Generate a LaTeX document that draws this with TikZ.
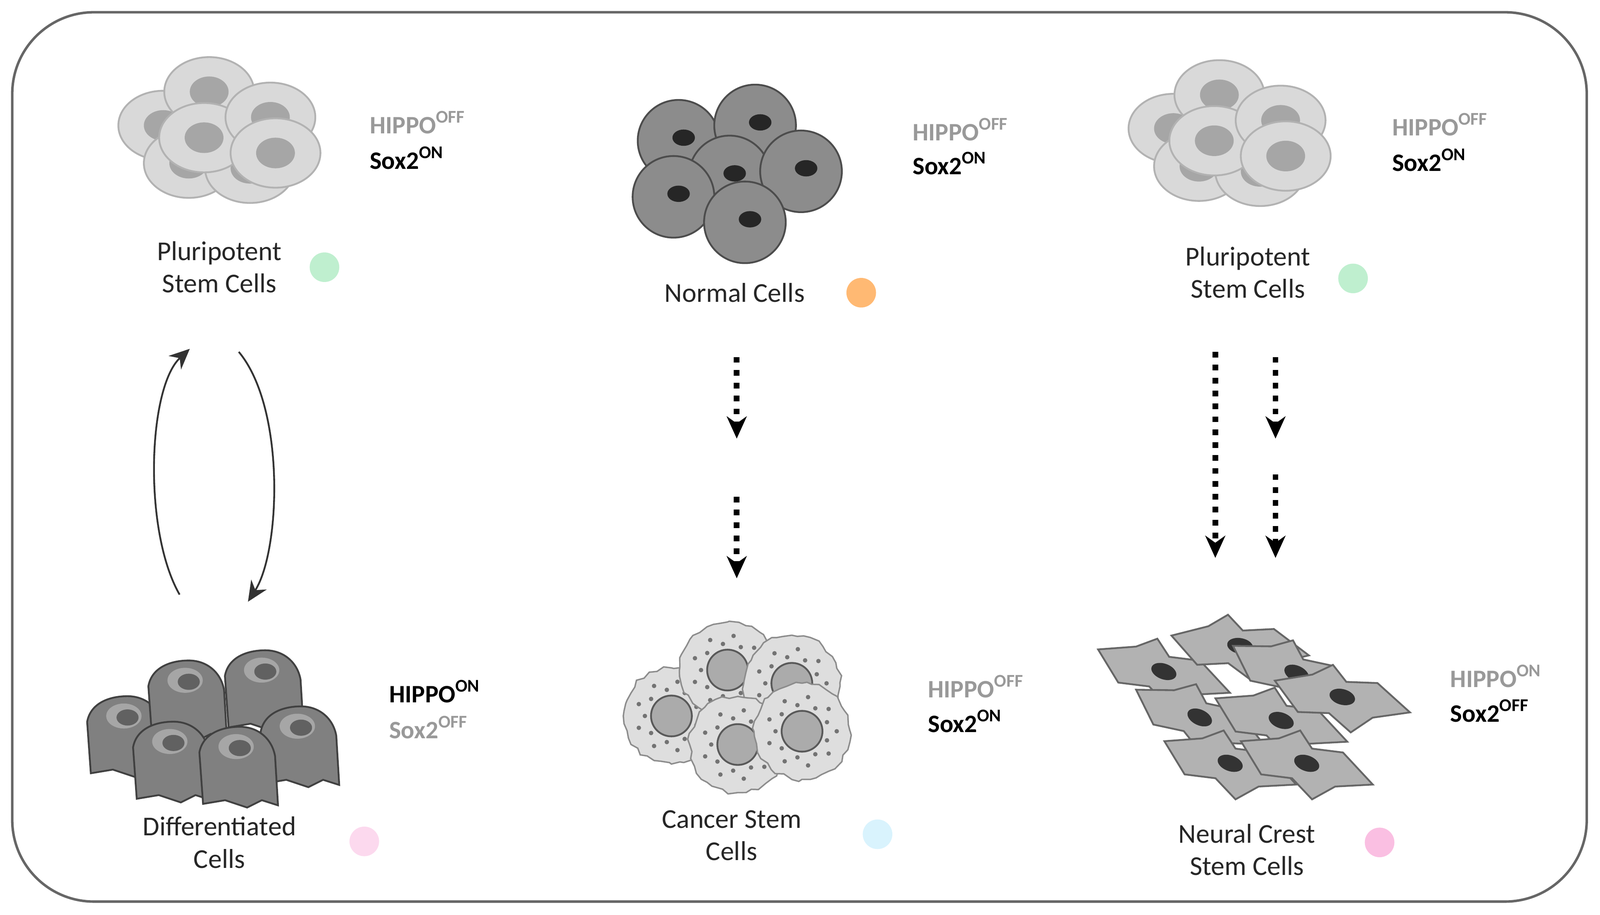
\documentclass[tikz,border=0pt]{standalone}
\usepackage{fontspec}
\setmainfont{Carlito}
\usetikzlibrary{arrows.meta,decorations.pathmorphing}
\begin{document}
\begin{tikzpicture}[x=0.01cm,y=-0.01cm,
  lbl/.style={font=\fontsize{7.6}{9}\selectfont,align=center,text=black!85},
  st/.style={font=\fontsize{7}{8}\selectfont\bfseries,anchor=west},
  on/.style={st,text=black},
  off/.style={st,text=black!40},
  dot/.style={circle,minimum size=2.9mm,inner sep=0},
  pc/.style={fill=black!15,draw=black!30,line width=0.5pt},
  pn/.style={fill=black!35},
  nc/.style={fill=black!45,draw=black!70,line width=0.5pt},
  dc/.style={fill=black!50,draw=black!75,line width=0.5pt},
  cc/.style={fill=black!13,draw=black!45,line width=0.4pt,decorate,decoration={random steps,segment length=2pt,amplitude=0.6pt}},
  nr/.style={fill=black!33,draw=black!65,line width=0.5pt},
  dotarr/.style={line width=1.6pt,dotted,-{Stealth[length=2.2mm,width=2mm,line width=0pt]}},
  curv/.style={line width=0.5pt,black!80,-{Stealth[length=2mm,width=1.8mm]}}]
\useasboundingbox (0,0) rectangle (1568,897);
\draw[black!60,line width=0.7pt,rounded corners=0.8cm] (12,12) rectangle (1555,884);

% pluripotent clusters
\foreach \cx/\cy/\nm in {215/135/L,1205/138/R}{
 \begin{scope}[shift={(\cx,\cy)}]
 \foreach \dx/\dy in {-55/-12,-10/-45,-30/25,30/30,-15/0,50/-20,55/15}{
   \fill[pc] (\dx,\dy) ellipse [x radius=4.4mm,y radius=3.4mm];
   \fill[pn] (\dx,\dy) ellipse [x radius=1.9mm,y radius=1.5mm];}
 \end{scope}}
% normal cells
\begin{scope}[shift={(720,168)}]
 \foreach \dx/\dy in {-55/-30,20/-45,-5/5,65/0,-60/25,10/50}{
   \fill[nc] (\dx,\dy) circle (4mm);
   \fill[black!85] (\dx+5,\dy-3) ellipse [x radius=1.1mm,y radius=0.8mm];}
\end{scope}
% differentiated cells
\begin{scope}[shift={(210,705)}]
 \foreach \dx/\dy in {-85/10,-25/-25,50/-35,85/20,-40/35,25/40}{
  \begin{scope}[shift={(\dx,\dy)},scale=0.72]
   \filldraw[dc] (-50,60) -- (-55,-10) to[out=80,in=180] (0,-45) to[out=0,in=100] (48,-5) -- (52,62) -- (30,55) -- (10,65) -- (-20,55) -- cycle;
   \fill[black!35] (-5,-18) ellipse [x radius=2.4mm,y radius=1.7mm];
   \fill[black!62] (0,-16) ellipse [x radius=1.5mm,y radius=1.1mm];
  \end{scope}}
\end{scope}
% cancer stem cells
\begin{scope}[shift={(718,692)}]
 \foreach \dx/\dy in {-60/10,-5/-35,58/-22,5/38,68/25}{
  \begin{scope}[shift={(\dx,\dy)}]
   \filldraw[cc] (0,0) circle (4.7mm);
   \foreach \a in {0,40,...,320}{\fill[black!55] (\a:34) circle (0.22mm); \fill[black!55] (\a+20:26) circle (0.22mm);}
   \filldraw[nr] (0,0) circle (2mm);
  \end{scope}}
\end{scope}
% neural crest
\begin{scope}[shift={(1215,690)}]
 \foreach \dx/\dy/\r in {-75/-30/-20,0/-55/-10,55/-28/-25,-40/15/-25,40/18/-20,100/-5/-15,-10/60/-20,65/60/-20}{
  \begin{scope}[shift={(\dx,\dy)},rotate=\r,scale=0.85]
   \filldraw[fill=black!30,draw=black!60,line width=0.5pt] (-80,0) -- (-40,-18) -- (-20,-35) -- (0,-20) -- (35,-28) -- (80,-5) -- (40,12) -- (20,35) -- (-10,20) -- (-45,28) -- cycle;
   \fill[black!80] (0,-2) ellipse [x radius=1.5mm,y radius=0.9mm];
  \end{scope}}
\end{scope}

% texts
\node[lbl] (p1) at (215,262) {Pluripotent\\Stem Cells};
\node[lbl] (nc) at (720,287) {Normal Cells};
\node[lbl] (p2) at (1223,267) {Pluripotent\\Stem Cells};
\node[lbl] (dcl) at (215,826) {Differentiated\\Cells};
\node[lbl] (csc) at (717,819) {Cancer Stem\\Cells};
\node[lbl] (ncs) at (1222,833) {Neural Crest\\Stem Cells};
\node[dot,fill=green!50!teal!25] (d1) at (318,262) {};
\node[dot,fill=orange!55] (d2) at (844,287) {};
\node[dot,fill=green!50!teal!25] (d3) at (1326,273) {};
\node[dot,fill=magenta!15] (d4) at (357,825) {};
\node[dot,fill=cyan!15] (d5) at (860,818) {};
\node[dot,fill=magenta!25] (d6) at (1352,826) {};

\node[off] (h1) at (350,120) {HIPPO\textsuperscript{OFF}};
\node[on] (s1) at (350,155) {Sox2\textsuperscript{ON}};
\node[off] (h2) at (882,127) {HIPPO\textsuperscript{OFF}};
\node[on] (s2) at (882,160) {Sox2\textsuperscript{ON}};
\node[off] (h3) at (1352,122) {HIPPO\textsuperscript{OFF}};
\node[on] (s3) at (1352,157) {Sox2\textsuperscript{ON}};
\node[on] (h4) at (369,678) {HIPPO\textsuperscript{ON}};
\node[off] (s4) at (369,713) {Sox2\textsuperscript{OFF}};
\node[off] (h5) at (897,673) {HIPPO\textsuperscript{OFF}};
\node[on] (s5) at (897,707) {Sox2\textsuperscript{ON}};
\node[off] (h6) at (1409,663) {HIPPO\textsuperscript{ON}};
\node[on] (s6) at (1409,697) {Sox2\textsuperscript{OFF}};

% arrows
\coordinate (a1) at (176,583); \coordinate (a2) at (186,342);
\coordinate (b1) at (234,345); \coordinate (b2) at (243,590);
\draw[curv] (a1) .. controls (140,520) and (145,380) .. (a2);
\draw[curv] (b1) .. controls (280,400) and (275,540) .. (b2);
\coordinate (m1) at (722,350); \coordinate (m2) at (722,430);
\coordinate (m3) at (722,487); \coordinate (m4) at (722,567);
\coordinate (r1) at (1191,345); \coordinate (r2) at (1191,547);
\coordinate (r3) at (1250,350); \coordinate (r4) at (1250,430);
\coordinate (r5) at (1250,465); \coordinate (r6) at (1250,547);
\draw[dotarr] (m1) -- (m2);
\draw[dotarr] (m3) -- (m4);
\draw[dotarr] (r1) -- (r2);
\draw[dotarr] (r3) -- (r4);
\draw[dotarr] (r5) -- (r6);
\end{tikzpicture}
\end{document}
